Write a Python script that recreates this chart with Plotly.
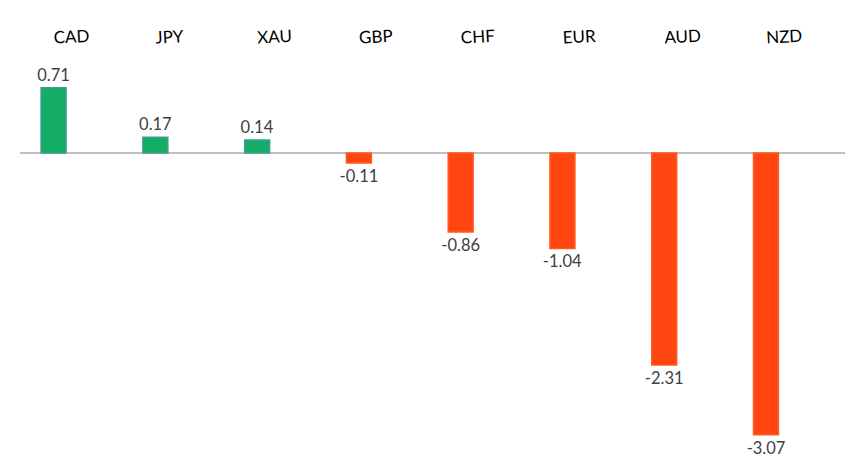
import plotly.graph_objects as go

currencies = ["CAD", "JPY", "XAU", "GBP", "CHF", "EUR", "AUD", "NZD"]
changes = [0.71, 0.17, 0.14, -0.11, -0.86, -1.04, -2.31, -3.07]

pos_color = "#13ad67"
neg_color = "#ff4510"
colors = [pos_color if v >= 0 else neg_color for v in changes]
edge_colors = ["#3a9f8c" if v >= 0 else "#ff5a20" for v in changes]
labels = [f"{v:.2f}" for v in changes]

fig = go.Figure(go.Bar(
    x=currencies,
    y=changes,
    width=0.245,
    marker=dict(color=colors, line=dict(color=edge_colors, width=1.5)),
    text=labels,
    textposition="outside",
    constraintext="none",
    textfont=dict(family="Lato, Open Sans, sans-serif", size=16.5, color="#404040"),
    cliponaxis=False,
))

fig.update_layout(
    width=845, height=467,
    margin=dict(l=12, r=0, t=42, b=10),
    paper_bgcolor="white",
    plot_bgcolor="white",
    showlegend=False,
    bargap=0.75,
    xaxis=dict(
        type="category",
        side="top",
        range=[-0.33, 7.855],
        automargin=False,
        showgrid=False,
        showline=False,
        ticks="",
        tickangle=-3,
        ticklabelstandoff=2,
        tickfont=dict(family="Lato, Open Sans, sans-serif", size=17, color="#000000"),
    ),
    yaxis=dict(
        range=[-3.40, 1.122],
        automargin=False,
        showgrid=False,
        showticklabels=False,
        zeroline=True,
        zerolinecolor="#bfbfbf",
        zerolinewidth=2,
        showline=False,
    ),
)

fig.write_html("out.html")
